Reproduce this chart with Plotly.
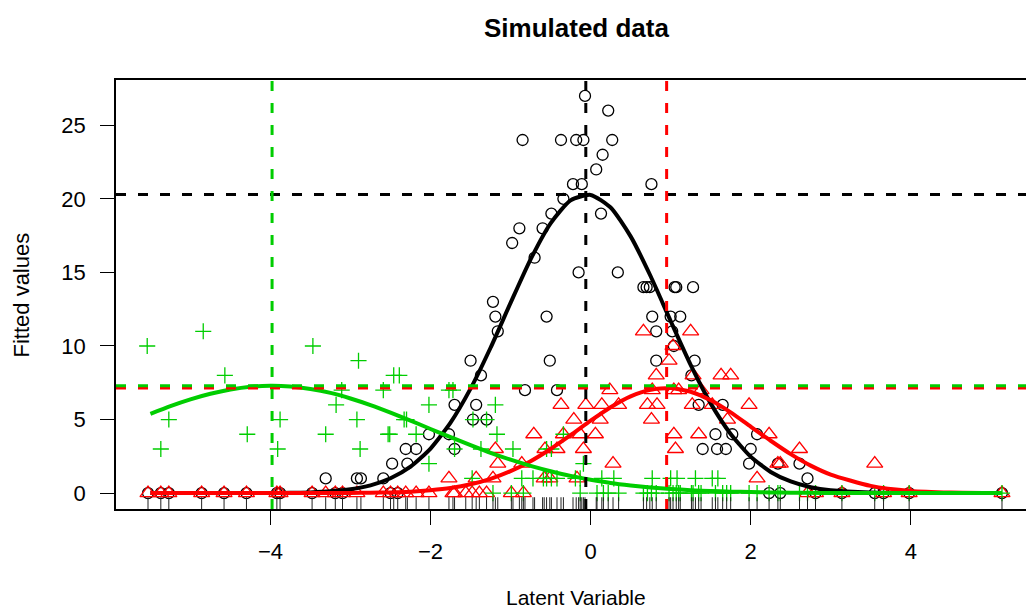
import plotly.graph_objects as go

# ---------------- data ----------------
sites_x = [-5.53,-5.37,-5.27,-4.86,-4.58,-4.30,-3.92,-3.88,-3.48,-3.31,-3.19,-3.10,-2.92,-2.87,-2.59,-2.50,
           -2.46,-2.41,-2.31,-2.29,-2.18,-2.02,-1.77,-1.72,-1.70,-1.56,-1.48,-1.43,-1.39,-1.30,-1.22,-1.19,
           -1.16,-0.99,-0.97,-0.89,-0.86,-0.84,-0.82,-0.72,-0.70,-0.60,-0.58,-0.55,-0.51,-0.49,-0.42,-0.37,
           -0.34,-0.22,-0.18,-0.15,-0.13,-0.11,-0.09,-0.07,0.07,0.08,0.14,0.16,0.22,0.28,0.35,0.66,0.70,0.74,
           0.77,0.82,0.98,1.00,1.03,1.07,1.10,1.12,1.26,1.28,1.31,1.35,1.38,1.52,1.56,1.59,1.65,1.70,1.75,
           1.98,2.08,2.23,2.34,2.37,2.61,2.71,2.81,3.14,3.55,3.66,3.98,5.14]

sp1_x = [-5.53,-5.37,-5.27,-4.86,-4.58,-4.30,-3.92,-3.88,-3.48,-3.19,-3.10,-2.50,-2.41,
         -3.31,-2.92,-2.87,-2.59,-2.48,-2.29,-2.31,-2.18,-2.02,-1.77,-1.70,-1.47,-1.30,-1.70,-1.43,
         -0.82,-0.42,-1.37,-1.50,-0.51,-1.16,-1.19,-0.55,-1.22,-0.15,0.34,-0.70,-0.98,-0.89,-0.60,
         -0.49,0.13,-0.34,-0.22,-0.11,0.76,0.07,0.15,-0.85,-0.37,-0.18,-0.09,0.27,0.22,-0.07,
         0.66,0.70,0.74,1.05,1.07,1.28,0.77,1.00,1.12,0.82,1.02,1.04,0.82,1.30,1.26,1.35,1.65,
         1.56,1.77,2.08,1.40,1.58,1.69,2.00,1.98,2.34,2.61,2.71,
         2.23,2.37,2.81,3.14,3.55,3.66,3.98,5.14]
sp1_y = [0,0,0,0,0,0,0,0,0,0,0,0,0,
         1,1,1,1,2,2,3,3,4,4,3,5,5,6,6,
         7,7,8,9,9,11,12,12,13,15,15,16,17,18,18,
         19,19,20,21,21,21,22,23,24,24,24,24,24,26,27,
         14,14,14,14,14,14,12,12,12,11,11,10,9,9,8,6,6,
         4,4,4,3,3,3,3,2,2,2,1,
         0,0,0,0,0,0,0,0]

sp2_x = [-5.53,-5.37,-5.27,-4.86,-4.58,-4.30,-3.92,-3.88,-3.48,-3.31,-3.19,-3.10,-2.92,-2.59,-2.50,
         -2.41,-2.31,-2.18,-2.02,-1.72,-1.70,-1.56,-1.48,-1.39,-1.30,-0.99,-0.84,
         -1.77,-1.43,-1.22,-0.58,-0.51,-0.17,2.08,
         -1.16,-0.86,0.28,2.34,2.37,3.55,
         -1.19,-0.57,-0.42,-0.09,1.06,2.61,
         -0.71,-0.34,-0.13,0.06,1.04,1.35,2.23,
         -0.21,0.12,0.76,1.71,
         -0.37,-0.06,0.14,0.35,0.71,0.83,1.27,1.52,1.98,
         0.24,0.77,1.04,1.10,1.38,
         0.82,1.28,1.63,1.75,
         0.98,1.03,0.66,1.25,
         2.71,2.81,3.14,3.66,3.98,5.14]
sp2_y = [0,0,0,0,0,0,0,0,0,0,0,0,0,0,0,
         0,0,0,0,0,0,0,0,0,0,0,0,
         1,1,1,1,1,1,1,
         2,2,2,2,2,2,
         3,3,3,3,3,3,
         4,4,4,4,4,4,4,
         5,5,5,5,
         6,6,6,6,6,6,6,6,6,
         7,7,7,7,7,
         8,8,8,8,
         9,10,11,11,
         0,0,0,0,0,0]

sp3_x = [-5.54,-4.84,-4.57,-5.27,-5.37,-4.29,-3.88,-3.91,
         -3.47,-2.90,-2.46,-2.39,-3.11,-2.59,-1.77,-1.72,
         -3.18,-2.02,-1.19,
         -2.92,-2.33,-2.30,-1.47,-1.30,
         -3.31,-2.53,-2.51,-2.18,-1.17,-0.34,
         -2.88,-1.70,-1.37,-0.97,-0.55,-0.49,
         -2.02,-0.09,
         -1.48,-0.86,-0.72,-0.59,-0.55,-0.49,-0.42,-0.19,-0.13,0.14,0.29,0.77,1.00,1.08,1.31,1.52,1.59,
         -1.22,-0.99,-0.84,-0.13,0.08,0.16,0.22,0.35,0.66,0.71,0.76,0.82,0.98,1.03,1.07,1.10,1.12,1.26,
         1.28,1.35,1.38,1.56,1.65,1.70,1.75,1.98,2.08,2.23,2.34,2.37,2.61,2.71,2.81,3.14,3.55,3.66,3.98,5.14]
sp3_y = [10,11,8,5,3,4,5,3,
         10,9,8,8,7,7,7,7,
         6,6,6,
         5,5,5,5,5,
         4,4,4,4,4,4,
         3,3,3,3,3,3,
         2,2,
         1,1,1,1,1,1,1,1,1,1,1,1,1,1,1,1,1,
         0,0,0,0,0,0,0,0,0,0,0,0,0,0,0,0,0,0,
         0,0,0,0,0,0,0,0,0,0,0,0,0,0,0,0,0,0,0,0]

curve_x = [-5.5,-5.25,-5,-4.75,-4.5,-4.25,-4,-3.75,-3.5,-3.25,-3,-2.75,-2.5,-2.25,-2,-1.75,-1.5,-1.25,
           -1,-0.75,-0.5,-0.25,0,0.25,0.5,0.75,1,1.25,1.5,1.75,2,2.25,2.5,2.75,3,3.5,4,4.5,5.14]
fit1 = [0,0,0,0,0,0,0.01,0.02,0.05,0.12,0.26,0.53,1.01,1.80,3.03,4.79,7.10,9.88,
        12.93,15.89,18.34,19.90,20.27,19.41,17.45,14.74,11.70,8.72,6.10,4.02,2.48,1.44,0.79,0.40,0.19,0.04,0.01,0,0]
fit2 = [0,0,0,0,0,0,0,0,0,0.005,0.01,0.025,0.05,0.10,0.20,0.35,0.60,0.97,
        1.49,2.17,3.00,3.94,4.92,5.84,6.58,7.03,7.15,6.89,6.31,5.49,4.52,3.56,2.65,1.87,1.26,0.49,0.15,0.04,0.005]
fit3 = [5.39,5.91,6.37,6.75,7.04,7.23,7.30,7.25,7.08,6.81,6.43,5.98,5.47,4.93,4.36,3.80,3.26,2.74,
        2.27,1.85,1.49,1.17,0.91,0.69,0.52,0.38,0.28,0.20,0.14,0.10,0.07,0.045,0.03,0.02,0.01,0.005,0,0,0]

optimum_x = [-0.06, 0.95, -3.98]
max_y = [20.3, 7.15, 7.3]

colors = ["#000000", "#FF0000", "#00CD00"]
x_ticks = [-4, -2, 0, 2, 4]
y_ticks = [0, 5, 10, 15, 20, 25]

# ---------------- figure ----------------
FONT = "Liberation Sans, Arial, Helvetica, sans-serif"
XR = [-5.93, 5.44]
YR = [-1.08, 28.08]

fig = go.Figure()

fig.add_trace(go.Scatter(x=sp1_x, y=sp1_y, mode="markers",
                         marker=dict(symbol="circle-open", size=11, color=colors[0],
                                     line=dict(width=1.3, color=colors[0]))))
fig.add_trace(go.Scatter(x=sp2_x, y=sp2_y, mode="markers",
                         marker=dict(symbol="triangle-up-open", size=14, color=colors[1],
                                     line=dict(width=1.3, color=colors[1]))))
fig.add_trace(go.Scatter(x=sp3_x, y=sp3_y, mode="markers",
                         marker=dict(symbol="cross-thin-open", size=11.5, color=colors[2],
                                     line=dict(width=1.3, color=colors[2]))))

for fy, c in zip([fit1, fit2, fit3], colors):
    fig.add_trace(go.Scatter(x=curve_x, y=fy, mode="lines",
                             line=dict(color=c, width=4, shape="spline", smoothing=0.6)))

# rug
rug_x, rug_y = [], []
rug_len = 0.8
for sx in sites_x:
    rug_x += [sx, sx, None]
    rug_y += [YR[0], YR[0] + rug_len, None]
fig.add_trace(go.Scatter(x=rug_x, y=rug_y, mode="lines", line=dict(color="#222222", width=1)))

for ox, my, c in zip(optimum_x, max_y, colors):
    fig.add_shape(type="line", xref="x", yref="paper", x0=ox, x1=ox, y0=0, y1=1,
                  line=dict(color=c, width=3, dash="10px,12px"))
    fig.add_shape(type="line", xref="paper", yref="y", x0=0, x1=1, y0=my, y1=my,
                  line=dict(color=c, width=3, dash="10px,12px"))

fig.update_layout(
    width=1026, height=613,
    margin=dict(l=116, r=0, t=80, b=104, pad=0),
    paper_bgcolor="white", plot_bgcolor="white",
    showlegend=False,
    font=dict(family=FONT, size=22, color="black"),
    xaxis=dict(range=XR, tickvals=x_ticks, ticks="outside", ticklen=14, tickwidth=1.3,
               tickcolor="black", showline=True, linecolor="black", linewidth=1.5, mirror=True,
               showgrid=False, zeroline=False, ticklabelstandoff=8,
               tickfont=dict(family=FONT, size=22, color="black")),
    yaxis=dict(range=YR, tickvals=y_ticks, ticks="outside", ticklen=14, tickwidth=1.3,
               tickcolor="black", showline=True, linecolor="black", linewidth=1.5, mirror=False,
               showgrid=False, zeroline=False, ticklabelstandoff=10,
               tickfont=dict(family=FONT, size=22, color="black")),
    annotations=[
        dict(text="<b>Simulated data</b>", xref="paper", yref="paper", x=0.5055, y=1.121,
             xanchor="center", yanchor="middle", showarrow=False,
             font=dict(family=FONT, size=26, color="black")),
        dict(text="Latent Variable", xref="paper", yref="paper", x=0.5055, y=-0.207,
             xanchor="center", yanchor="middle", showarrow=False,
             font=dict(family=FONT, size=21, color="black")),
        dict(text="Fitted values", xref="paper", yref="paper", x=-0.1033, y=0.5,
             xanchor="center", yanchor="middle", showarrow=False, textangle=-90,
             font=dict(family=FONT, size=22, color="black")),
    ],
)

fig.write_html("out.html")
